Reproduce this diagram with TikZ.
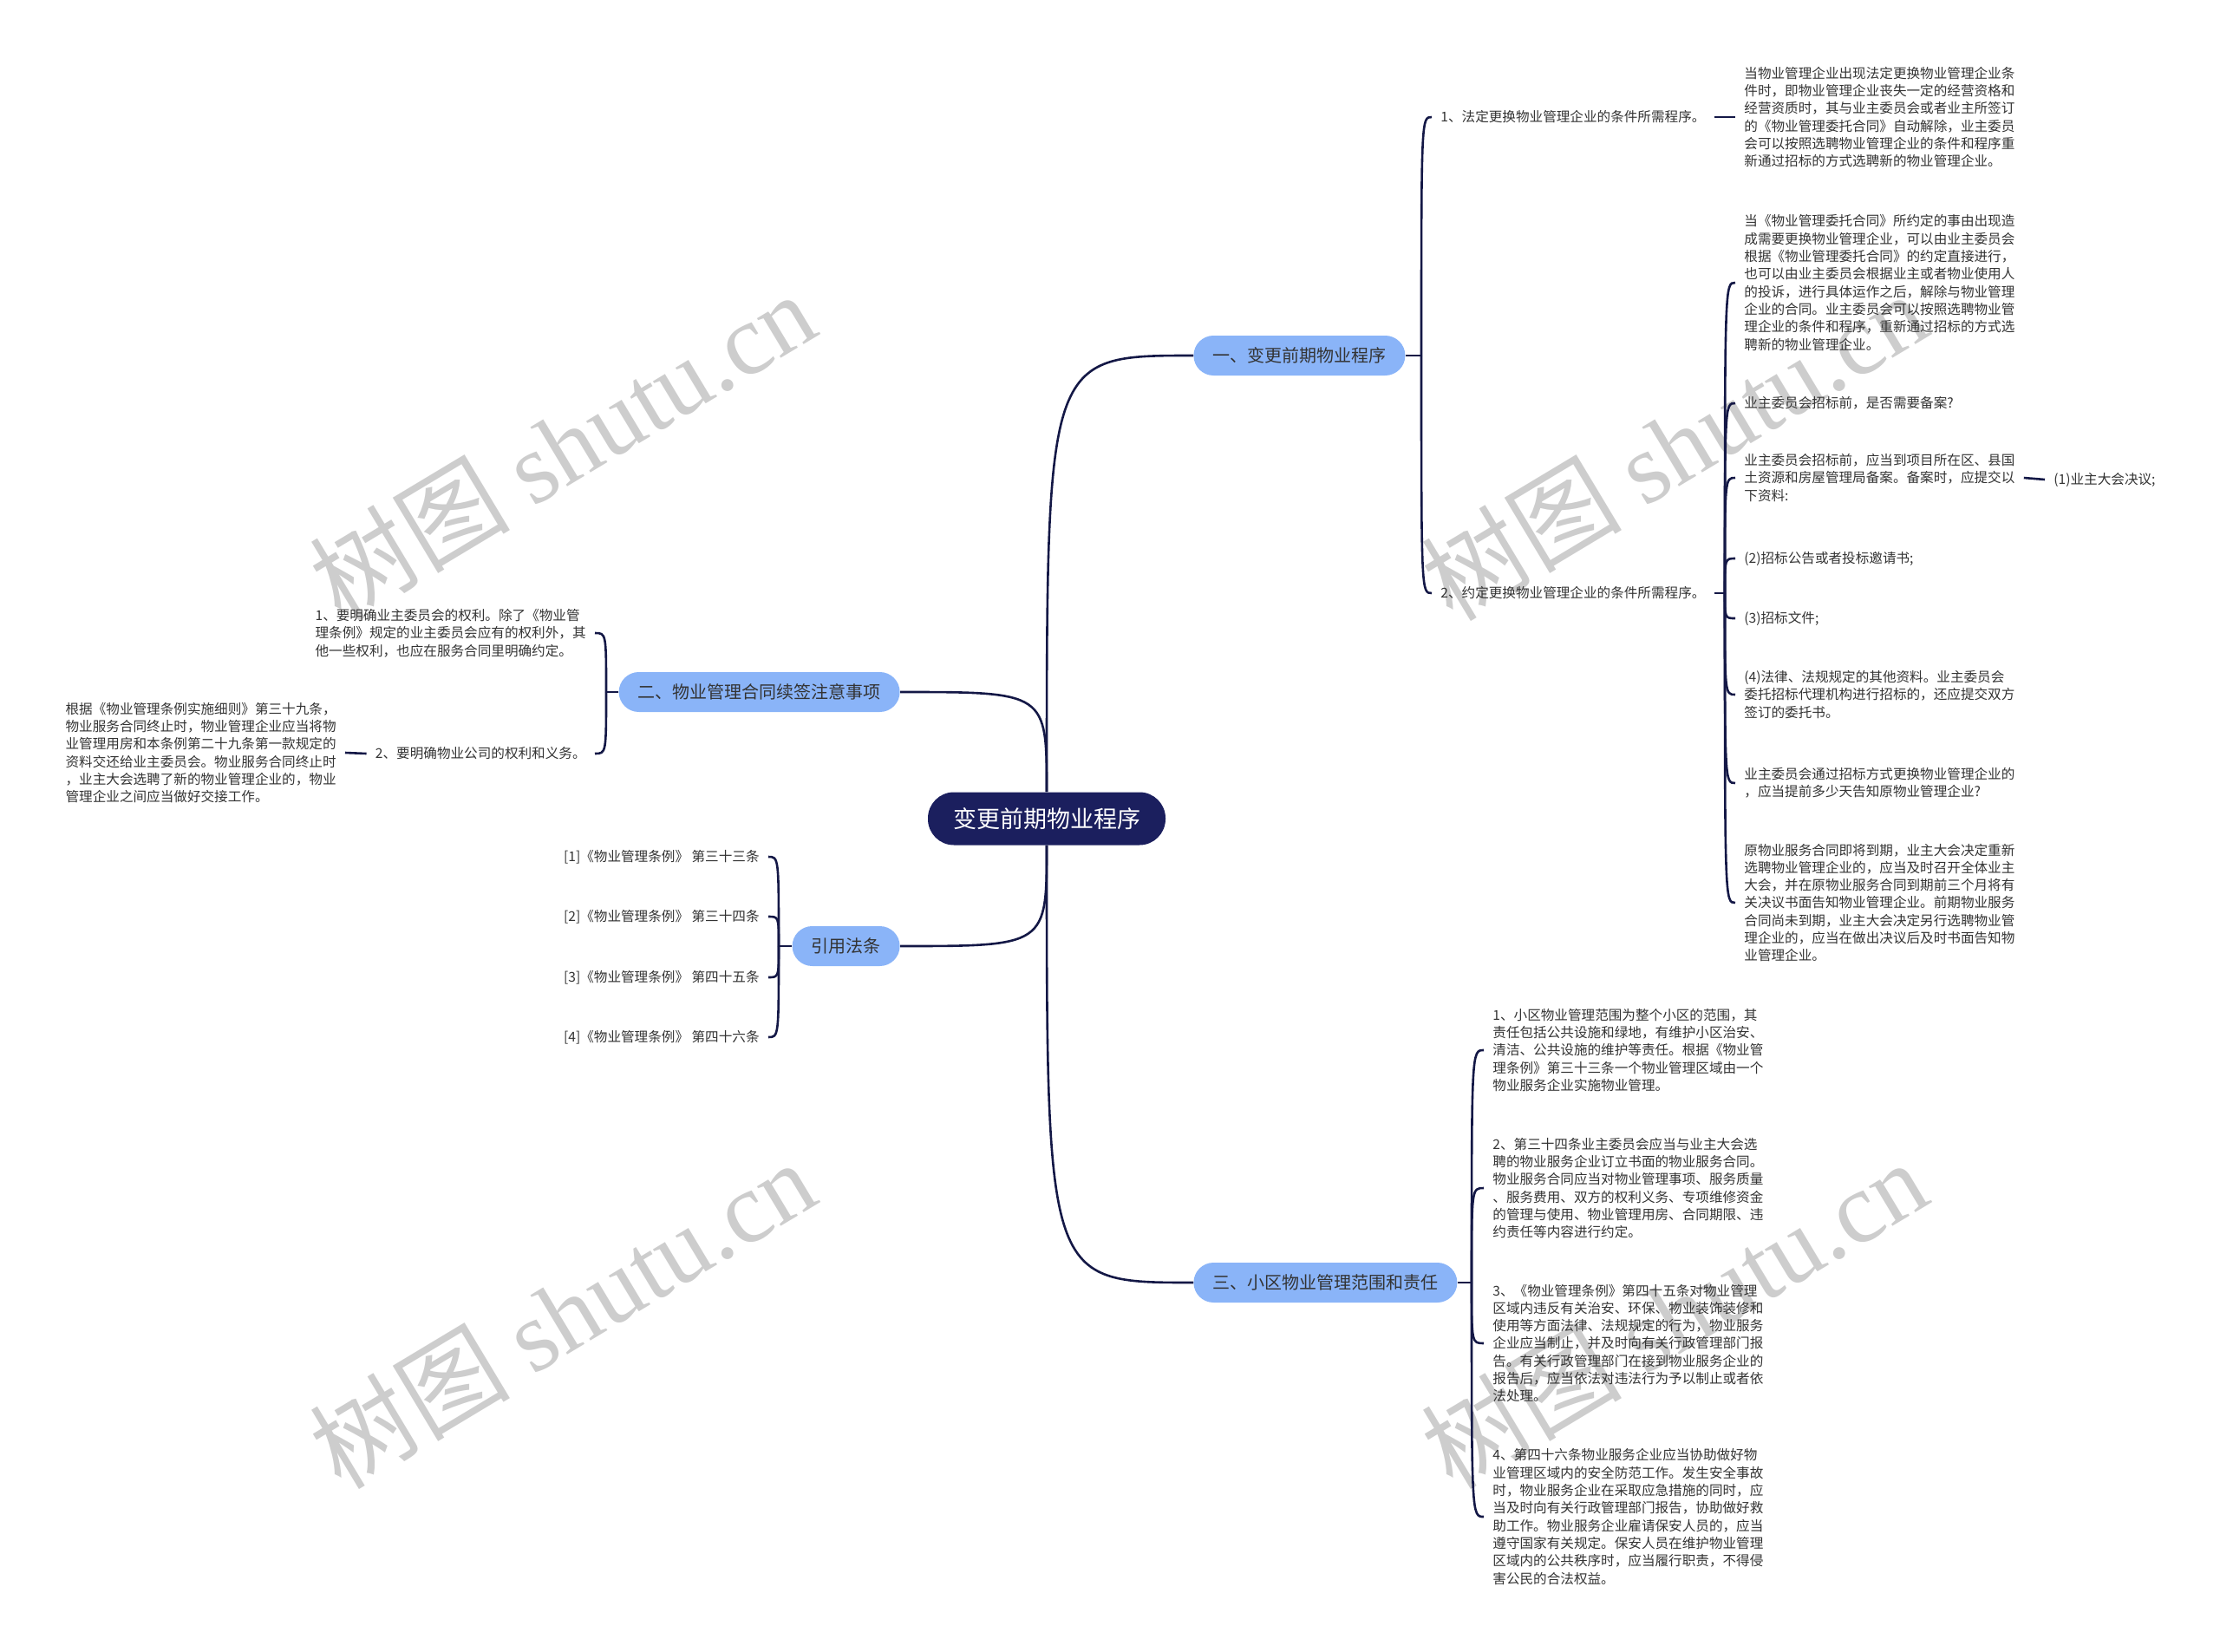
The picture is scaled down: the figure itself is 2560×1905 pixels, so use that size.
\documentclass[tikz,border=0pt]{standalone}
\usepackage{fontspec}
\setmainfont{Noto Sans CJK SC}
\newfontfamily\wmfont{Liberation Serif}
\usetikzlibrary{calc}
\definecolor{rootblue}{RGB}{27,31,94}
\definecolor{topicblue}{RGB}{138,180,248}
\definecolor{linkcol}{RGB}{20,24,70}
\definecolor{wmgray}{RGB}{205,205,205}
\begin{document}
\begin{tikzpicture}[x=0.5pt, y=-0.5pt,
    root/.style={fill=rootblue, text=white, rounded corners=15pt, minimum height=30.5pt, inner xsep=14.5pt, font=\fontsize{13.5}{16}\selectfont},
    topic/.style={fill=topicblue, text=black!80, rounded corners=11.5pt, minimum height=23pt, inner xsep=11pt, font=\fontsize{10}{12}\selectfont},
    leaf/.style={text=black!80, inner xsep=5pt, inner ysep=2pt, align=left, font=\fontsize{7.8}{10.15}\selectfont},
    link/.style={draw=linkcol, line width=1.3pt},
    watermark/.style={text=wmgray, rotate=31, font=\fontsize{58}{60}\selectfont}]
  \useasboundingbox (0,0) rectangle (2560,1905);

  % 1. 水印
  \node[watermark] (wm1) at (648,514) {树图 {\wmfont shutu.cn}};
  \node[watermark] (wm2) at (1930,514) {树图 {\wmfont shutu.cn}};
  \node[watermark] (wm3) at (648,1515) {树图 {\wmfont shutu.cn}};
  \node[watermark] (wm4) at (1930,1515) {树图 {\wmfont shutu.cn}};

  % 2. 中心与一级主题
  \node[root] (root) at (1207,944) {变更前期物业程序};
  \node[topic, anchor=west] (t1) at (1376,410) {一、变更前期物业程序};
  \node[topic, anchor=east] (t2) at (1038,798) {二、物业管理合同续签注意事项};
  \node[topic, anchor=east] (t3) at (1038,1091) {引用法条};
  \node[topic, anchor=west] (t4) at (1376,1479) {三、小区物业管理范围和责任};

  \draw[link] (root.north) .. controls (root.north |- t1.west) .. (t1.west);
  \draw[link] (root.north) .. controls (root.north |- t2.east) .. (t2.east);
  \draw[link] (root.south) .. controls (root.south |- t3.east) .. (t3.east);
  \draw[link] (root.south) .. controls (root.south |- t4.west) .. (t4.west);

  % 3. 一、变更前期物业程序
  \coordinate (j1) at (1639,410);
  \node[leaf, anchor=west] (l11) at (1651,135) {1、法定更换物业管理企业的条件所需程序。};
  \node[leaf, anchor=west] (l12) at (1651,684) {2、约定更换物业管理企业的条件所需程序。};
  \node[leaf, anchor=west] (d11) at (2001,135) {当物业管理企业出现法定更换物业管理企业条\\件时，即物业管理企业丧失一定的经营资格和\\经营资质时，其与业主委员会或者业主所签订\\的《物业管理委托合同》自动解除，业主委员\\会可以按照选聘物业管理企业的条件和程序重\\新通过招标的方式选聘新的物业管理企业。};
  \draw[link] (t1.east) -- (j1);
  \foreach \c in {l11,l12} \draw[link] (j1) .. controls (j1 |- \c.west) .. (\c.west);
  \draw[link] (l11.east) -- (d11.west);

  \coordinate (j12) at (1989,684);
  \node[leaf, anchor=west] (l2a) at (2001,326) {当《物业管理委托合同》所约定的事由出现造\\成需要更换物业管理企业，可以由业主委员会\\根据《物业管理委托合同》的约定直接进行，\\也可以由业主委员会根据业主或者物业使用人\\的投诉，进行具体运作之后，解除与物业管理\\企业的合同。业主委员会可以按照选聘物业管\\理企业的条件和程序，重新通过招标的方式选\\聘新的物业管理企业。};
  \node[leaf, anchor=west] (l2b) at (2001,465) {业主委员会招标前，是否需要备案?};
  \node[leaf, anchor=west] (l2c) at (2001,551) {业主委员会招标前，应当到项目所在区、县国\\土资源和房屋管理局备案。备案时，应提交以\\下资料:};
  \node[leaf, anchor=west] (l2d) at (2001,644) {(2)招标公告或者投标邀请书;};
  \node[leaf, anchor=west] (l2e) at (2001,713) {(3)招标文件;};
  \node[leaf, anchor=west] (l2f) at (2001,801) {(4)法律、法规规定的其他资料。业主委员会\\委托招标代理机构进行招标的，还应提交双方\\签订的委托书。};
  \node[leaf, anchor=west] (l2g) at (2001,903) {业主委员会通过招标方式更换物业管理企业的\\，应当提前多少天告知原物业管理企业?};
  \node[leaf, anchor=west] (l2h) at (2001,1041) {原物业服务合同即将到期，业主大会决定重新\\选聘物业管理企业的，应当及时召开全体业主\\大会，并在原物业服务合同到期前三个月将有\\关决议书面告知物业管理企业。前期物业服务\\合同尚未到期，业主大会决定另行选聘物业管\\理企业的，应当在做出决议后及时书面告知物\\业管理企业。};
  \node[leaf, anchor=west] (c1) at (2358,553) {(1)业主大会决议;};
  \draw[link] (l12.east) -- (j12);
  \foreach \c in {l2a,l2b,l2c,l2d,l2e,l2f,l2g,l2h} \draw[link] (j12) .. controls (j12 |- \c.west) .. (\c.west);
  \draw[link] (l2c.east) -- (c1.west);

  % 4. 二、物业管理合同续签注意事项
  \coordinate (j2) at (699,798);
  \node[leaf, anchor=east] (l21) at (686,730) {1、要明确业主委员会的权利。除了《物业管\\理条例》规定的业主委员会应有的权利外，其\\他一些权利，也应在服务合同里明确约定。};
  \node[leaf, anchor=east] (l22) at (686,869) {2、要明确物业公司的权利和义务。};
  \node[leaf, anchor=east] (d22) at (398,868) {根据《物业管理条例实施细则》第三十九条，\\物业服务合同终止时，物业管理企业应当将物\\业管理用房和本条例第二十九条第一款规定的\\资料交还给业主委员会。物业服务合同终止时\\，业主大会选聘了新的物业管理企业的，物业\\管理企业之间应当做好交接工作。};
  \draw[link] (t2.west) -- (j2);
  \foreach \c in {l21,l22} \draw[link] (j2) .. controls (j2 |- \c.east) .. (\c.east);
  \draw[link] (l22.west) -- (d22.east);

  % 5. 引用法条
  \coordinate (j3) at (898,1091);
  \node[leaf, anchor=east] (r1) at (886,988) {[1]《物业管理条例》 第三十三条};
  \node[leaf, anchor=east] (r2) at (886,1057) {[2]《物业管理条例》 第三十四条};
  \node[leaf, anchor=east] (r3) at (886,1127) {[3]《物业管理条例》 第四十五条};
  \node[leaf, anchor=east] (r4) at (886,1196) {[4]《物业管理条例》 第四十六条};
  \draw[link] (t3.west) -- (j3);
  \foreach \c in {r1,r2,r3,r4} \draw[link] (j3) .. controls (j3 |- \c.east) .. (\c.east);

  % 6. 三、小区物业管理范围和责任
  \coordinate (j4) at (1697,1479);
  \node[leaf, anchor=west] (l41) at (1711,1211) {1、小区物业管理范围为整个小区的范围，其\\责任包括公共设施和绿地，有维护小区治安、\\清洁、公共设施的维护等责任。根据《物业管\\理条例》第三十三条一个物业管理区域由一个\\物业服务企业实施物业管理。};
  \node[leaf, anchor=west] (l42) at (1711,1370) {2、第三十四条业主委员会应当与业主大会选\\聘的物业服务企业订立书面的物业服务合同。\\物业服务合同应当对物业管理事项、服务质量\\、服务费用、双方的权利义务、专项维修资金\\的管理与使用、物业管理用房、合同期限、违\\约责任等内容进行约定。};
  \node[leaf, anchor=west] (l43) at (1711,1549) {3、《物业管理条例》第四十五条对物业管理\\区域内违反有关治安、环保、物业装饰装修和\\使用等方面法律、法规规定的行为，物业服务\\企业应当制止，并及时向有关行政管理部门报\\告。有关行政管理部门在接到物业服务企业的\\报告后，应当依法对违法行为予以制止或者依\\法处理。};
  \node[leaf, anchor=west] (l44) at (1711,1749) {4、第四十六条物业服务企业应当协助做好物\\业管理区域内的安全防范工作。发生安全事故\\时，物业服务企业在采取应急措施的同时，应\\当及时向有关行政管理部门报告，协助做好救\\助工作。物业服务企业雇请保安人员的，应当\\遵守国家有关规定。保安人员在维护物业管理\\区域内的公共秩序时，应当履行职责，不得侵\\害公民的合法权益。};
  \draw[link] (t4.east) -- (j4);
  \foreach \c in {l41,l42,l43,l44} \draw[link] (j4) .. controls (j4 |- \c.west) .. (\c.west);
\end{tikzpicture}
\end{document}
